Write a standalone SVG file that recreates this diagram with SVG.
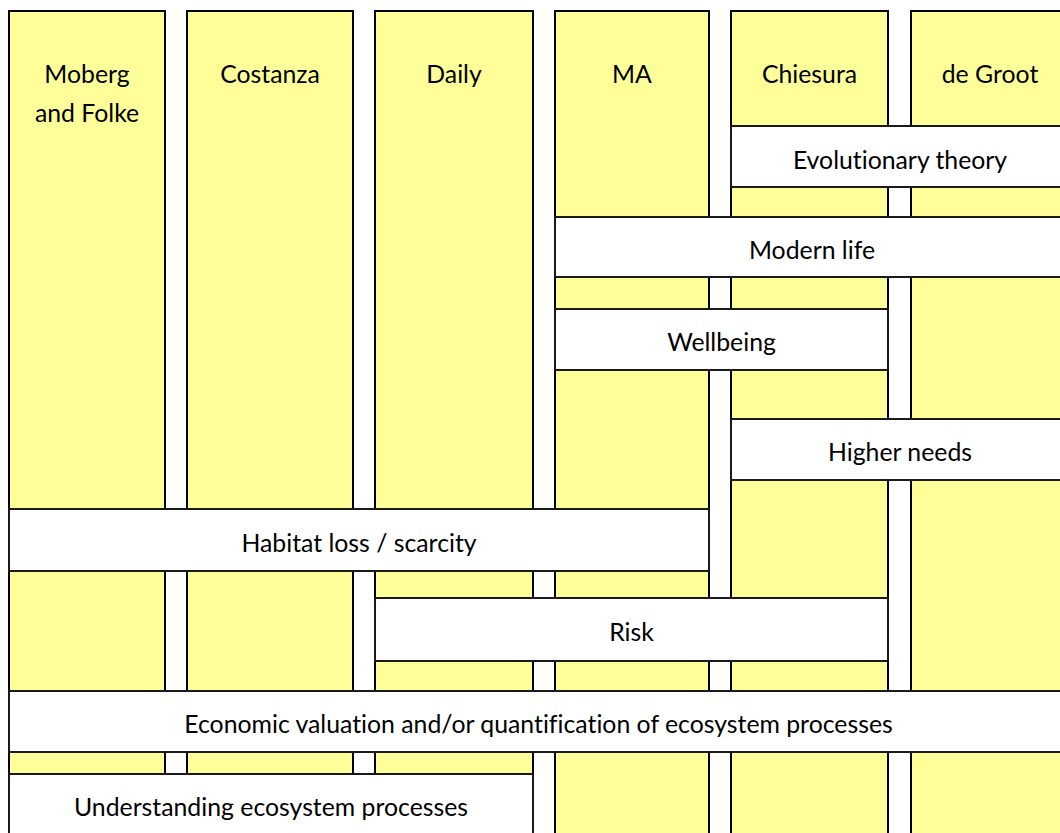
<svg xmlns="http://www.w3.org/2000/svg" width="1060" height="833" viewBox="0 0 1060 833">
  <style>
    .col { fill: #FFFF99; stroke: #000; stroke-width: 2; }
    .band { fill: #FFFFFF; stroke: #1a1a1a; stroke-width: 2; }
    text { font-family: Lato, "Open Sans", "Liberation Sans", sans-serif; font-size: 24.8px; fill: #000; text-anchor: middle; font-variant-ligatures: none; }
  </style>
  <rect width="1060" height="833" fill="#FFFFFF"/>

  <!-- Source columns -->
  <g id="col-moberg-folke">
    <rect class="col" x="9" y="11" width="156" height="840"/>
    <text x="87" y="83">Moberg</text>
    <text x="87" y="122">and Folke</text>
  </g>
  <g id="col-costanza">
    <rect class="col" x="187" y="11" width="166" height="840"/>
    <text x="270" y="83">Costanza</text>
  </g>
  <g id="col-daily">
    <rect class="col" x="375" y="11" width="158" height="840"/>
    <text x="454" y="83">Daily</text>
  </g>
  <g id="col-ma">
    <rect class="col" x="555" y="11" width="154" height="840"/>
    <text x="632" y="83">MA</text>
  </g>
  <g id="col-chiesura">
    <rect class="col" x="731" y="11" width="157" height="840"/>
    <text x="809.5" y="83">Chiesura</text>
  </g>
  <g id="col-de-groot">
    <rect class="col" x="911" y="11" width="158" height="840"/>
    <text x="990" y="83">de Groot</text>
  </g>

  <!-- Theme bands laid across the columns -->
  <g id="band-evolutionary-theory">
    <rect class="band" x="731" y="126" width="338" height="61"/>
    <text x="900" y="168.5">Evolutionary theory</text>
  </g>
  <g id="band-modern-life">
    <rect class="band" x="555" y="217" width="514" height="60"/>
    <text x="812" y="259">Modern life</text>
  </g>
  <g id="band-wellbeing">
    <rect class="band" x="555" y="309" width="333" height="61"/>
    <text x="721.5" y="351">Wellbeing</text>
  </g>
  <g id="band-higher-needs">
    <rect class="band" x="731" y="419" width="338" height="61"/>
    <text x="900" y="461">Higher needs</text>
  </g>
  <g id="band-habitat-loss">
    <rect class="band" x="9" y="509" width="700" height="62"/>
    <text x="359" y="551.5">Habitat loss / scarcity</text>
  </g>
  <g id="band-risk">
    <rect class="band" x="375" y="598" width="513" height="63"/>
    <text x="631.5" y="641">Risk</text>
  </g>
  <g id="band-economic-valuation">
    <rect class="band" x="9" y="691" width="1060" height="61"/>
    <text x="538.5" y="732.5">Economic valuation and/or quantification of ecosystem processes</text>
  </g>
  <g id="band-understanding">
    <rect class="band" x="9" y="774" width="524" height="70"/>
    <text x="271" y="816">Understanding ecosystem processes</text>
  </g>
</svg>
